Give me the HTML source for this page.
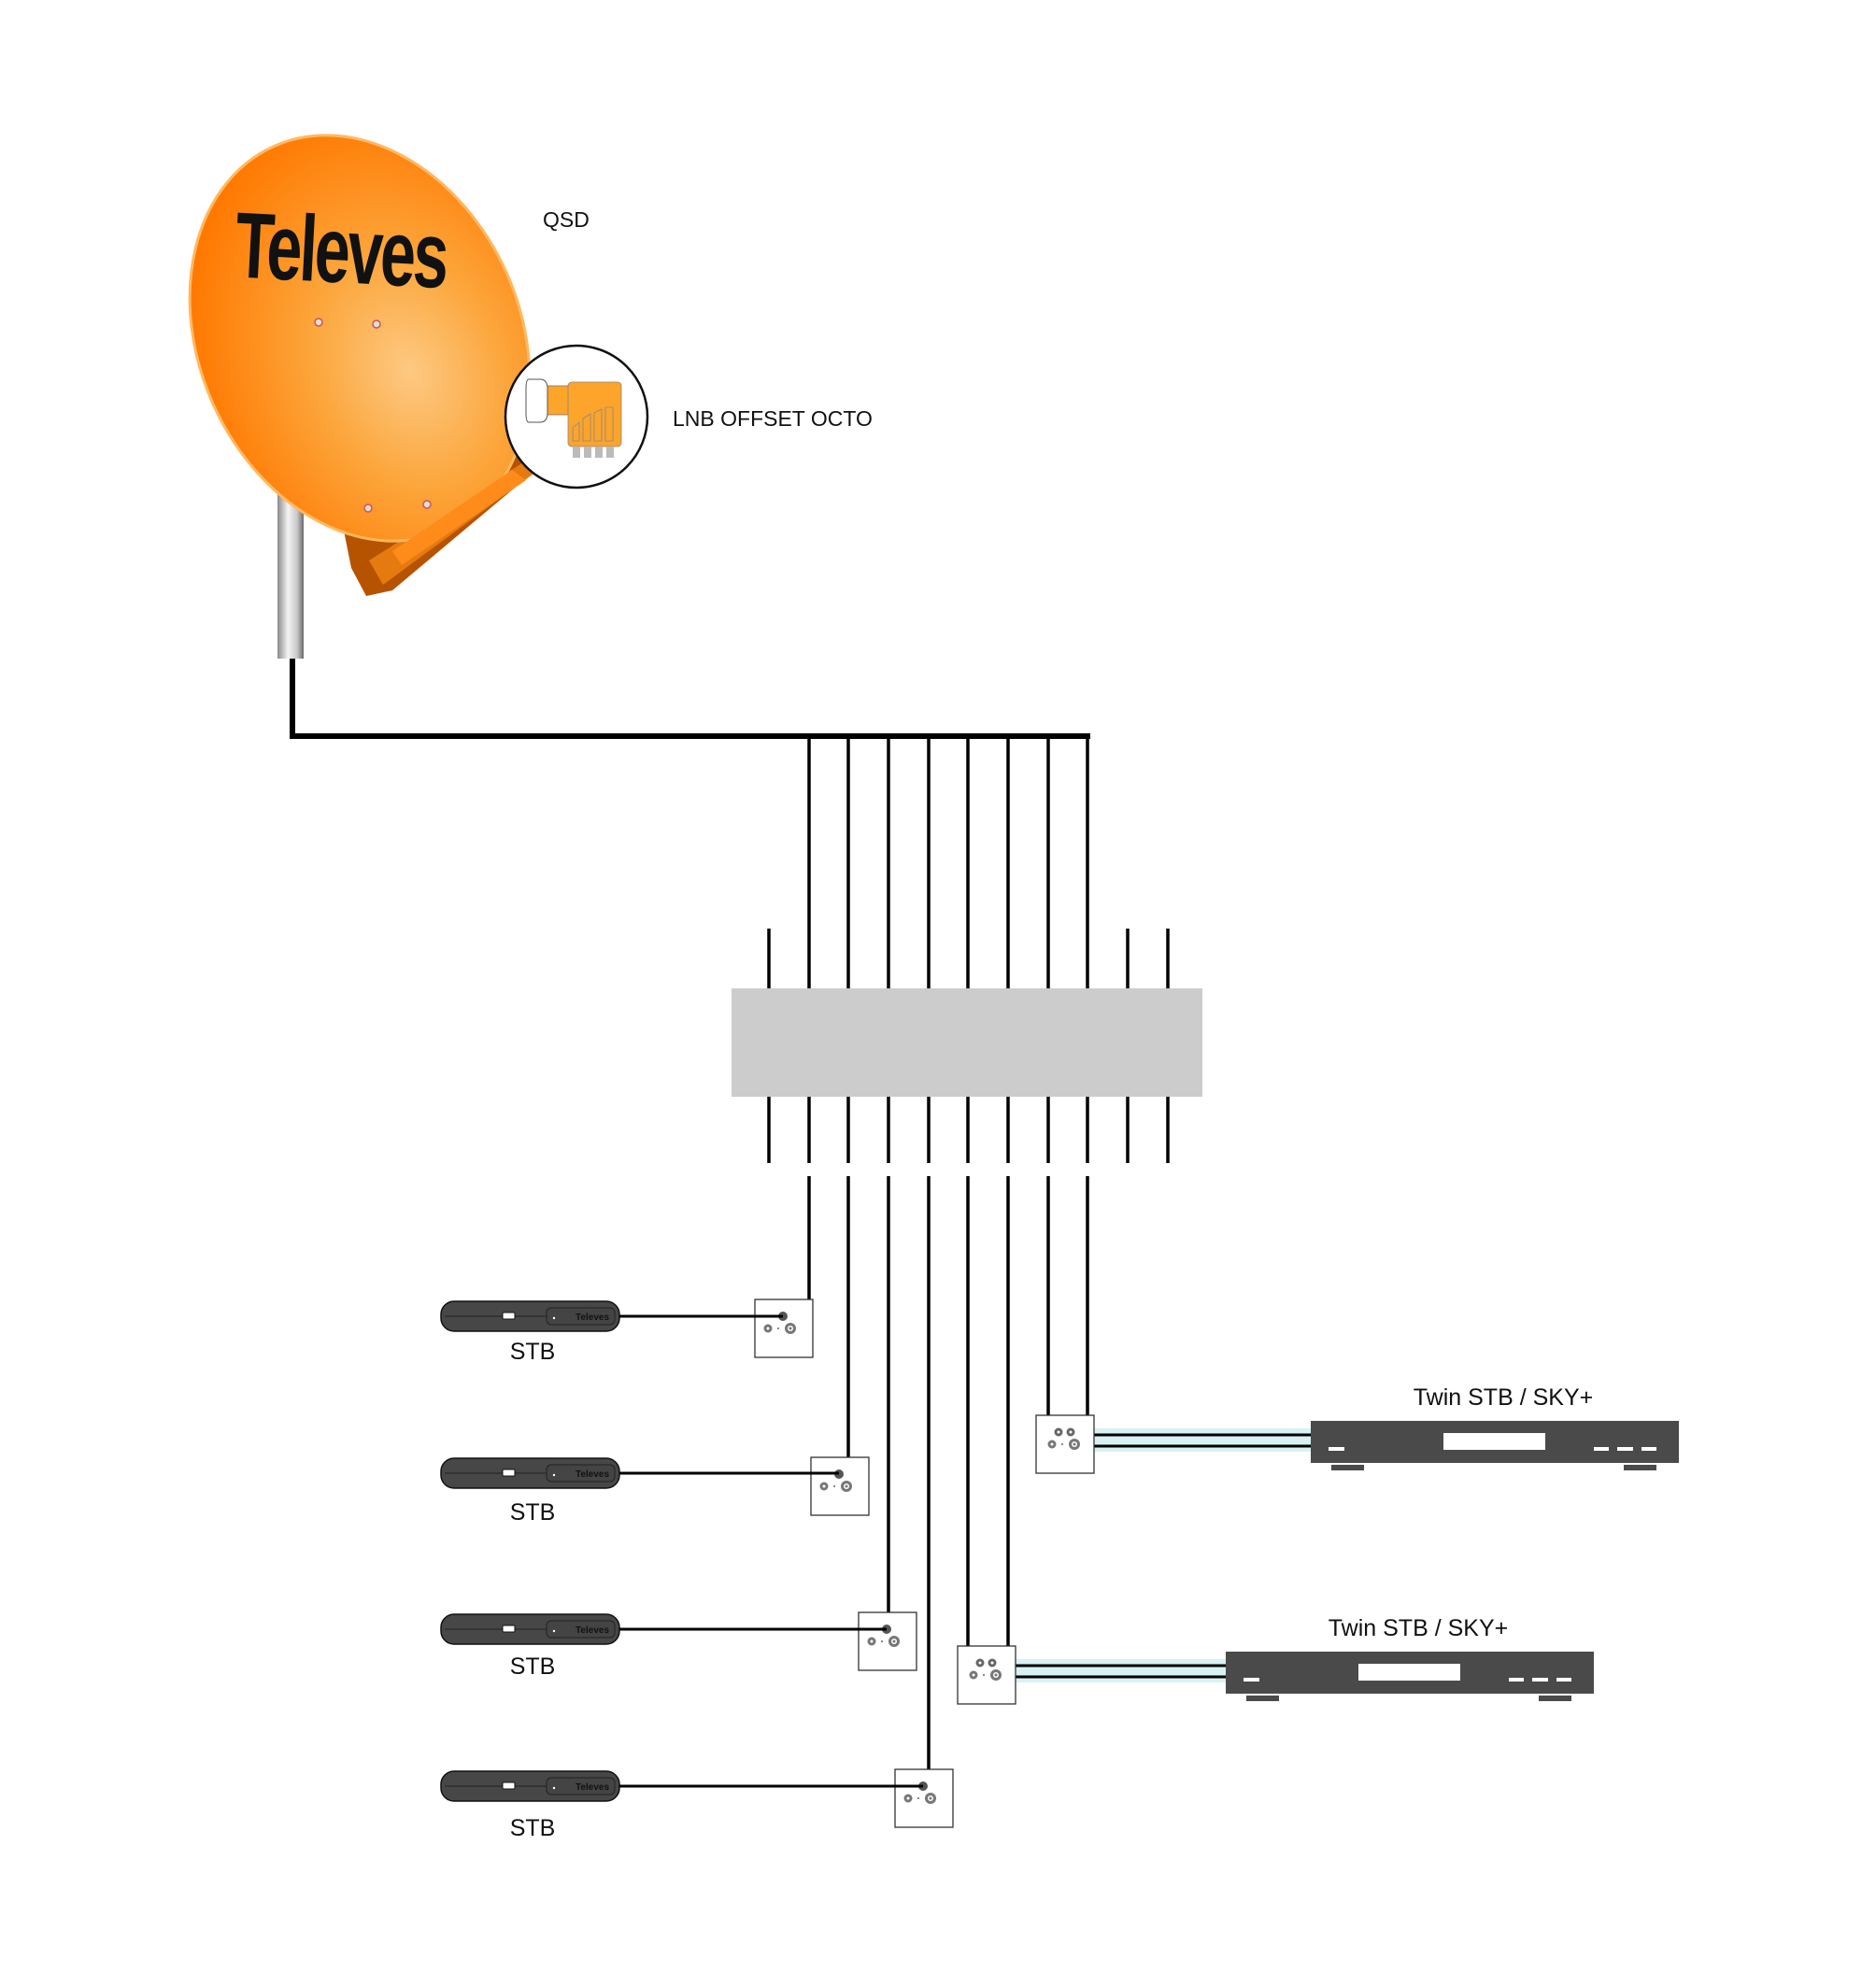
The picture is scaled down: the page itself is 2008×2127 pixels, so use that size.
<!DOCTYPE html>
<html><head><meta charset="utf-8"><style>
html,body{margin:0;padding:0;background:#fff}
svg{display:block}
text{font-family:"Liberation Sans","DejaVu Sans",sans-serif}
</style></head><body>
<svg width="2008" height="2127" viewBox="0 0 2008 2127" xmlns="http://www.w3.org/2000/svg">
<defs>
<radialGradient id="dish" cx="0.6" cy="0.62" r="0.65">
<stop offset="0" stop-color="#fdc983"/>
<stop offset="0.45" stop-color="#fca53a"/>
<stop offset="1" stop-color="#ff7800"/>
</radialGradient>
<linearGradient id="mast" x1="0" x2="1">
<stop offset="0" stop-color="#8a8a8a"/>
<stop offset="0.4" stop-color="#f4f4f4"/>
<stop offset="0.75" stop-color="#c8c8c8"/>
<stop offset="1" stop-color="#6a6a6a"/>
</linearGradient>
<g id="stb">
<rect x="472" y="-16" width="191" height="32" rx="14" fill="#474747" stroke="#111" stroke-width="1.5"/>
<line x1="476" y1="0" x2="590" y2="0" stroke="#222" stroke-width="1"/>
<rect x="538" y="-4" width="13" height="7" rx="1" fill="#fff" stroke="#111"/>
<rect x="585" y="-9" width="73" height="18" rx="5" fill="#444" stroke="#222"/>
<circle cx="593" cy="2" r="1.2" fill="#fff"/>
<text x="652" y="4" font-size="10" font-weight="bold" text-anchor="end" fill="#111">Televes</text>
</g>
<g id="out">
<rect x="0" y="0" width="62" height="62" fill="#fff" stroke="#333" stroke-width="1.3"/>
<circle cx="30" cy="18" r="5" fill="#555"/>
<circle cx="14" cy="31" r="4.5" fill="#777"/><circle cx="14" cy="31" r="1.5" fill="#fff"/>
<circle cx="25" cy="31" r="1" fill="#666"/>
<circle cx="38" cy="31" r="6" fill="#777"/><circle cx="38" cy="31" r="3" fill="#fff"/><circle cx="38" cy="31" r="1.5" fill="#777"/>
</g>
<g id="tout">
<rect x="0" y="0" width="62" height="62" fill="#fff" stroke="#333" stroke-width="1.3"/>
<circle cx="24" cy="18" r="4.5" fill="#666"/><circle cx="24" cy="18" r="1.5" fill="#fff"/>
<circle cx="37" cy="18" r="4.5" fill="#666"/><circle cx="37" cy="18" r="1.5" fill="#fff"/>
<circle cx="17" cy="31" r="4.5" fill="#777"/><circle cx="17" cy="31" r="1.5" fill="#fff"/>
<circle cx="28" cy="31" r="1" fill="#666"/>
<circle cx="41" cy="31" r="6" fill="#777"/><circle cx="41" cy="31" r="3" fill="#fff"/><circle cx="41" cy="31" r="1.5" fill="#777"/>
</g>
<g id="twin">
<rect x="1403" y="1521" width="394" height="45" fill="#4a4a4a"/>
<rect x="1545" y="1534" width="109" height="18" fill="#fff"/>
<rect x="1422" y="1549" width="17" height="4" fill="#fff"/>
<rect x="1706" y="1549" width="16" height="4" fill="#fff"/>
<rect x="1731" y="1549" width="17" height="4" fill="#fff"/>
<rect x="1757" y="1549" width="16" height="4" fill="#fff"/>
<rect x="1425" y="1568" width="35" height="6" fill="#4a4a4a"/>
<rect x="1738" y="1568" width="35" height="6" fill="#4a4a4a"/>
<rect x="1171" y="1529" width="232" height="25" fill="#d8f2f4"/>
<line x1="1171" y1="1536" x2="1403" y2="1536" stroke="#000" stroke-width="3"/>
<line x1="1171" y1="1548" x2="1403" y2="1548" stroke="#000" stroke-width="3"/>
<text x="1609" y="1504" font-size="25" text-anchor="middle" fill="#111">Twin STB / SKY+</text>
</g>
</defs>

<!-- mast -->
<rect x="297" y="517" width="28" height="188" fill="url(#mast)"/>
<!-- bracket -->
<polygon points="368,568 565,478 582,496 420,632 392,638 376,608" fill="#b65300"/>
<polygon points="395,600 568,490 578,502 410,626" fill="#e57a10"/>
<!-- dish -->
<ellipse cx="385" cy="362" rx="172" ry="225" transform="rotate(-24 385 362)" fill="url(#dish)" stroke="#ffb860" stroke-width="3"/>
<polygon points="420,590 548,503 563,514 430,605" fill="#ff8c1a"/>
<text x="252" y="302" font-size="100" font-weight="bold" textLength="226" lengthAdjust="spacingAndGlyphs" fill="#111" transform="rotate(3 360 265)" letter-spacing="-4">Televes</text>
<circle cx="341" cy="345" r="4" fill="#ddd" stroke="#c55" stroke-width="1.5"/>
<circle cx="403" cy="347" r="4" fill="#ddd" stroke="#c55" stroke-width="1.5"/>
<circle cx="394" cy="544" r="4" fill="#ddd" stroke="#c55" stroke-width="1.5"/>
<circle cx="457" cy="540" r="4" fill="#ddd" stroke="#c55" stroke-width="1.5"/>

<!-- LNB circle -->
<circle cx="617" cy="446" r="76" fill="#fff" stroke="#111" stroke-width="2.5"/>
<rect x="584" y="413" width="26" height="31" fill="#fda42a" stroke="#777" stroke-width="0.8"/>
<path d="M566,406 h12 q8,0 8,10 v26 q0,10 -8,10 h-12 q-3,0 -3,-10 v-26 q0,-10 3,-10z" fill="#fff" stroke="#555"/>
<rect x="608" y="409" width="57" height="69" rx="4" fill="#fda42a" stroke="#888" stroke-width="0.8"/>
<rect x="613" y="478" width="8" height="12" fill="#bbb"/>
<rect x="625" y="478" width="8" height="12" fill="#bbb"/>
<rect x="637" y="478" width="8" height="12" fill="#bbb"/>
<rect x="649" y="478" width="8" height="12" fill="#bbb"/>
<path d="M613,472 v-14 l7,-6 v20z M624,472 v-24 l8,-5 v29z M636,472 v-30 l8,-4 v34z M648,472 v-36 h8 v36z" fill="none" stroke="#888" stroke-width="0.8"/>

<text x="581" y="243" font-size="23" fill="#111">QSD</text>
<text x="720" y="456" font-size="23" fill="#111">LNB OFFSET OCTO</text>

<!-- main cable -->
<polyline points="313,705 313,788 1167,788" fill="none" stroke="#000" stroke-width="6"/>

<g stroke="#000" stroke-width="3.5">
<line x1="866" y1="788" x2="866" y2="1058"/>
<line x1="908" y1="788" x2="908" y2="1058"/>
<line x1="951" y1="788" x2="951" y2="1058"/>
<line x1="994" y1="788" x2="994" y2="1058"/>
<line x1="1036" y1="788" x2="1036" y2="1058"/>
<line x1="1079" y1="788" x2="1079" y2="1058"/>
<line x1="1122" y1="788" x2="1122" y2="1058"/>
<line x1="1164" y1="788" x2="1164" y2="1058"/>
<line x1="823" y1="994" x2="823" y2="1058"/>
<line x1="1207" y1="994" x2="1207" y2="1058"/>
<line x1="1250" y1="994" x2="1250" y2="1058"/>
<line x1="823" y1="1174" x2="823" y2="1245"/>
<line x1="866" y1="1174" x2="866" y2="1245"/>
<line x1="908" y1="1174" x2="908" y2="1245"/>
<line x1="951" y1="1174" x2="951" y2="1245"/>
<line x1="994" y1="1174" x2="994" y2="1245"/>
<line x1="1036" y1="1174" x2="1036" y2="1245"/>
<line x1="1079" y1="1174" x2="1079" y2="1245"/>
<line x1="1122" y1="1174" x2="1122" y2="1245"/>
<line x1="1164" y1="1174" x2="1164" y2="1245"/>
<line x1="1207" y1="1174" x2="1207" y2="1245"/>
<line x1="1250" y1="1174" x2="1250" y2="1245"/>
<line x1="866" y1="1259" x2="866" y2="1393"/>
<line x1="908" y1="1259" x2="908" y2="1562"/>
<line x1="951" y1="1259" x2="951" y2="1727"/>
<line x1="994" y1="1259" x2="994" y2="1895"/>
<line x1="1036" y1="1259" x2="1036" y2="1764"/>
<line x1="1079" y1="1259" x2="1079" y2="1764"/>
<line x1="1122" y1="1259" x2="1122" y2="1517"/>
<line x1="1164" y1="1259" x2="1164" y2="1517"/>
</g>
<rect x="783" y="1058" width="504" height="116" fill="#cccccc"/>

<!-- STBs -->
<use href="#stb" transform="translate(0,1409)"/>
<use href="#stb" transform="translate(0,1577)"/>
<use href="#stb" transform="translate(0,1744)"/>
<use href="#stb" transform="translate(0,1912)"/>
<g font-size="25" text-anchor="middle" fill="#111">
<text x="570" y="1455">STB</text>
<text x="570" y="1627">STB</text>
<text x="570" y="1792">STB</text>
<text x="570" y="1965">STB</text>
</g>
<use href="#out" transform="translate(808,1391)"/>
<use href="#out" transform="translate(868,1560)"/>
<use href="#out" transform="translate(919,1726)"/>
<use href="#out" transform="translate(958,1894)"/>
<g stroke="#000" stroke-width="3">
<line x1="663" y1="1409" x2="838" y2="1409"/>
<line x1="663" y1="1577" x2="898" y2="1577"/>
<line x1="663" y1="1744" x2="949" y2="1744"/>
<line x1="663" y1="1912" x2="988" y2="1912"/>
</g>

<!-- Twin -->
<use href="#twin"/>
<use href="#tout" transform="translate(1109,1515)"/>
<g transform="translate(-91,247)">
<use href="#twin"/>
</g>
<rect x="1087" y="1776" width="100" height="25" fill="#d8f2f4"/>
<line x1="1087" y1="1783" x2="1200" y2="1783" stroke="#000" stroke-width="3"/>
<line x1="1087" y1="1795" x2="1200" y2="1795" stroke="#000" stroke-width="3"/>
<use href="#tout" transform="translate(1025,1762)"/>
</svg>
</body></html>
